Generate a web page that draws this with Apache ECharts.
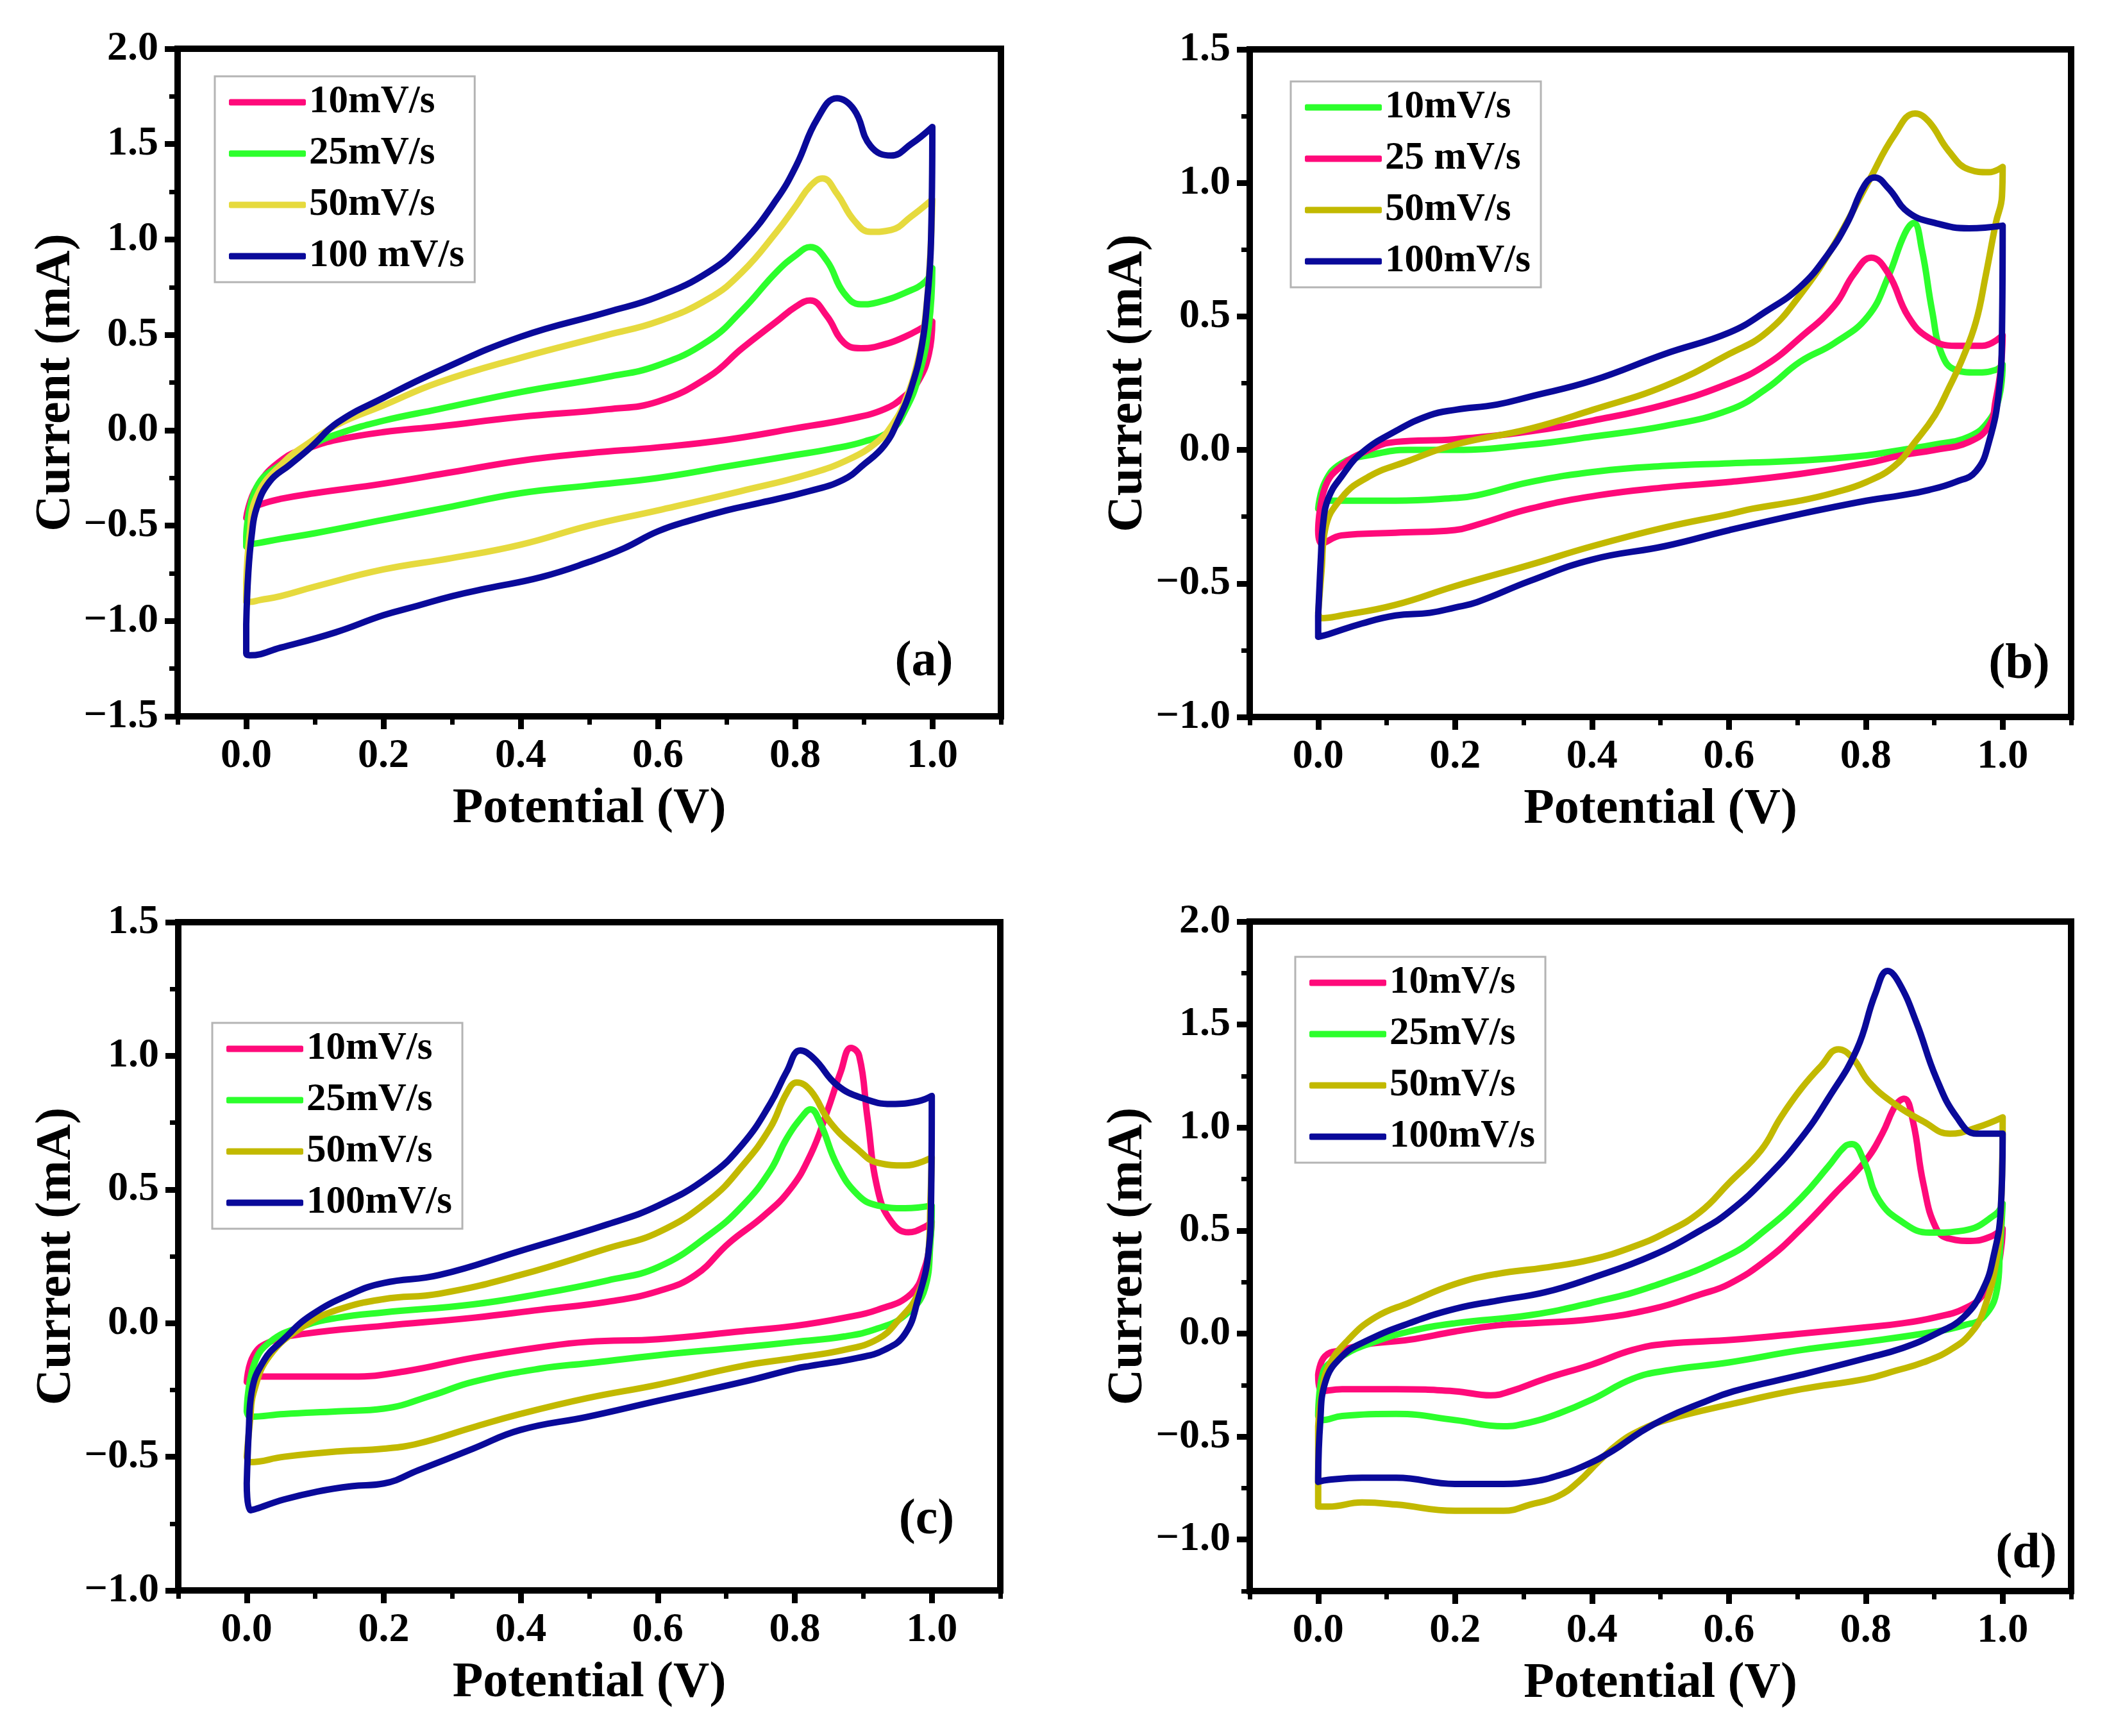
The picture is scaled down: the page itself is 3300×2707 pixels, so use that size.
<!DOCTYPE html>
<html>
<head>
<meta charset="utf-8">
<title>CV curves at different scan rates</title>
<script src="https://cdn.jsdelivr.net/npm/echarts@6/dist/echarts.min.js"></script>
<style>
  html, body { margin: 0; padding: 0; background: #fff; }
  #chart { width: 3300px; height: 2707px; }
</style>
</head>
<body>
<div id="chart"></div>
<script>
  var FONT = "'Liberation Serif', 'Times New Roman', serif";

  /** Tick labels */
  var potentialTicks = [0, 0.2, 0.4, 0.6, 0.8, 1.0];
  var currentTicksA = [-1.5, -1.0, -0.5, 0, 0.5, 1.0, 1.5, 2.0];
  var currentTicksBC = [-1.0, -0.5, 0, 0.5, 1.0, 1.5];
  var currentTicksD = [-1.0, -0.5, 0, 0.5, 1.0, 1.5, 2.0];

  /** Legend labels */
  var ratesA = ['10mV/s', '25mV/s', '50mV/s', '100 mV/s'];
  var ratesB = ['10mV/s', '25 mV/s', '50mV/s', '100mV/s'];
  var ratesCD = ['10mV/s', '25mV/s', '50mV/s', '100mV/s'];

  /** Data: [potential (V), current (mA)], forward scan then reverse scan */
  var cvA10 = [[0,-0.46],[0.015,-0.30],[0.054,-0.15],[0.094,-0.09],[0.133,-0.05],[0.2,-0.01],[0.28,0.02],[0.4,0.07],[0.527,0.11],[0.6,0.15],[0.674,0.28],[0.723,0.43],[0.773,0.57],[0.802,0.65],[0.822,0.68],[0.846,0.60],[0.871,0.46],[0.896,0.43],[0.92,0.44],[0.96,0.49],[1.0,0.57],
    [0.995,0.40],[0.98,0.26],[0.96,0.18],[0.93,0.11],[0.88,0.06],[0.8,0.01],[0.7,-0.05],[0.6,-0.09],[0.5,-0.12],[0.4,-0.16],[0.3,-0.22],[0.2,-0.28],[0.1,-0.33],[0.05,-0.36],[0.02,-0.39],[0.005,-0.42],[0,-0.46]];
  var cvA25 = [[0,-0.56],[0.015,-0.30],[0.054,-0.17],[0.094,-0.08],[0.133,-0.02],[0.2,0.05],[0.28,0.11],[0.4,0.20],[0.527,0.28],[0.6,0.34],[0.674,0.47],[0.723,0.63],[0.773,0.83],[0.802,0.92],[0.822,0.96],[0.846,0.89],[0.871,0.72],[0.896,0.66],[0.92,0.67],[0.96,0.72],[0.99,0.78],[1.0,0.85],
    [0.995,0.55],[0.98,0.28],[0.96,0.10],[0.94,0.0],[0.9,-0.06],[0.85,-0.10],[0.8,-0.13],[0.7,-0.19],[0.6,-0.25],[0.5,-0.29],[0.4,-0.33],[0.3,-0.40],[0.2,-0.47],[0.1,-0.54],[0.05,-0.57],[0.02,-0.59],[0.005,-0.60],[0,-0.61]];
  var cvA50 = [[0,-0.80],[0.005,-0.55],[0.015,-0.35],[0.054,-0.17],[0.094,-0.06],[0.133,0.03],[0.2,0.13],[0.28,0.25],[0.4,0.38],[0.527,0.50],[0.6,0.57],[0.674,0.69],[0.723,0.83],[0.773,1.04],[0.802,1.18],[0.822,1.28],[0.84,1.32],[0.861,1.24],[0.886,1.10],[0.91,1.04],[0.94,1.05],[0.969,1.12],[1.0,1.21],
    [0.997,0.92],[0.99,0.60],[0.98,0.38],[0.96,0.15],[0.94,0.02],[0.92,-0.06],[0.88,-0.15],[0.82,-0.23],[0.72,-0.32],[0.6,-0.42],[0.5,-0.50],[0.4,-0.60],[0.3,-0.67],[0.2,-0.73],[0.1,-0.82],[0.05,-0.87],[0.02,-0.89],[0.005,-0.90],[0,-0.90]];
  var cvA100 = [[0,-1.02],[0.003,-0.75],[0.008,-0.55],[0.015,-0.41],[0.034,-0.27],[0.064,-0.18],[0.094,-0.09],[0.133,0.04],[0.2,0.17],[0.28,0.31],[0.4,0.49],[0.527,0.62],[0.6,0.70],[0.674,0.83],[0.723,0.98],[0.773,1.21],[0.802,1.39],[0.832,1.63],[0.861,1.74],[0.886,1.68],[0.91,1.49],[0.94,1.44],[0.969,1.50],[1.0,1.59],
    [0.998,0.98],[0.993,0.70],[0.985,0.45],[0.97,0.23],[0.95,0.05],[0.93,-0.08],[0.9,-0.18],[0.87,-0.26],[0.82,-0.32],[0.75,-0.38],[0.7,-0.42],[0.65,-0.47],[0.6,-0.53],[0.55,-0.62],[0.5,-0.69],[0.43,-0.77],[0.35,-0.83],[0.3,-0.87],[0.25,-0.92],[0.2,-0.97],[0.13,-1.06],[0.05,-1.14],[0.005,-1.18],[0,-1.17]];

  var cvB10 = [[0,-0.22],[0.01,-0.12],[0.034,-0.05],[0.074,-0.02],[0.133,0.0],[0.2,0.0],[0.31,0.02],[0.401,0.05],[0.507,0.09],[0.601,0.15],[0.655,0.23],[0.704,0.33],[0.754,0.40],[0.803,0.50],[0.833,0.65],[0.857,0.81],[0.87,0.85],[0.882,0.75],[0.897,0.52],[0.911,0.36],[0.931,0.30],[0.961,0.29],[0.99,0.30],[1.0,0.32],
    [0.995,0.20],[0.98,0.11],[0.951,0.05],[0.901,0.02],[0.852,0.0],[0.801,-0.02],[0.704,-0.04],[0.601,-0.05],[0.507,-0.06],[0.409,-0.08],[0.31,-0.12],[0.232,-0.17],[0.2,-0.18],[0.113,-0.19],[0.034,-0.19],[0.01,-0.19],[0,-0.22]];
  var cvB25 = [[0,-0.30],[0.01,-0.14],[0.034,-0.06],[0.074,0.0],[0.113,0.03],[0.2,0.04],[0.31,0.07],[0.401,0.11],[0.507,0.17],[0.601,0.25],[0.655,0.32],[0.704,0.42],[0.754,0.54],[0.783,0.66],[0.808,0.72],[0.833,0.66],[0.862,0.50],[0.892,0.42],[0.931,0.39],[0.97,0.39],[1.0,0.43],
    [0.997,0.30],[0.99,0.19],[0.98,0.09],[0.951,0.03],[0.901,0.0],[0.852,-0.02],[0.801,-0.05],[0.704,-0.09],[0.601,-0.12],[0.507,-0.14],[0.409,-0.17],[0.31,-0.22],[0.232,-0.28],[0.2,-0.30],[0.113,-0.31],[0.034,-0.32],[0.005,-0.35]];
  var cvB50 = [[0,-0.61],[0.005,-0.45],[0.01,-0.30],[0.034,-0.18],[0.074,-0.10],[0.133,-0.04],[0.2,0.02],[0.31,0.08],[0.401,0.15],[0.507,0.24],[0.601,0.36],[0.655,0.44],[0.704,0.58],[0.754,0.77],[0.803,1.00],[0.842,1.18],[0.872,1.26],[0.892,1.23],[0.921,1.12],[0.951,1.05],[0.98,1.04],[1.0,1.06],
    [0.999,0.95],[0.99,0.85],[0.975,0.65],[0.961,0.48],[0.941,0.34],[0.921,0.23],[0.901,0.13],[0.872,0.03],[0.842,-0.06],[0.801,-0.12],[0.754,-0.16],[0.704,-0.19],[0.635,-0.22],[0.601,-0.24],[0.507,-0.29],[0.401,-0.36],[0.31,-0.43],[0.2,-0.51],[0.113,-0.58],[0.034,-0.62],[0.005,-0.63]];
  var cvB100 = [[0,-0.62],[0.004,-0.40],[0.007,-0.28],[0.015,-0.18],[0.034,-0.10],[0.064,-0.01],[0.113,0.07],[0.163,0.13],[0.2,0.15],[0.261,0.17],[0.31,0.20],[0.401,0.26],[0.507,0.36],[0.601,0.44],[0.655,0.52],[0.704,0.61],[0.744,0.73],[0.773,0.85],[0.798,0.99],[0.813,1.02],[0.833,0.98],[0.862,0.89],[0.901,0.85],[0.951,0.83],[1.0,0.84],
    [0.999,0.44],[0.995,0.23],[0.98,0.03],[0.961,-0.08],[0.931,-0.12],[0.892,-0.15],[0.852,-0.17],[0.801,-0.19],[0.704,-0.24],[0.601,-0.30],[0.507,-0.36],[0.401,-0.41],[0.31,-0.49],[0.232,-0.57],[0.2,-0.59],[0.163,-0.61],[0.113,-0.62],[0.064,-0.65],[0.015,-0.69],[0,-0.70]];

  var cvC10 = [[0,-0.22],[0.01,-0.12],[0.034,-0.07],[0.084,-0.04],[0.2,-0.01],[0.33,0.02],[0.429,0.05],[0.527,0.08],[0.601,0.12],[0.655,0.18],[0.704,0.30],[0.754,0.40],[0.793,0.50],[0.823,0.63],[0.847,0.79],[0.867,0.94],[0.882,1.03],[0.894,1.00],[0.906,0.77],[0.921,0.50],[0.941,0.38],[0.966,0.34],[0.99,0.36],[1.0,0.38],
    [0.997,0.30],[0.99,0.21],[0.97,0.11],[0.921,0.05],[0.872,0.02],[0.801,-0.01],[0.724,-0.03],[0.601,-0.06],[0.498,-0.07],[0.429,-0.09],[0.33,-0.13],[0.232,-0.18],[0.153,-0.20],[0.084,-0.20],[0.015,-0.20],[0,-0.22]];
  var cvC25 = [[0,-0.33],[0.01,-0.16],[0.034,-0.07],[0.084,-0.01],[0.133,0.02],[0.2,0.04],[0.33,0.07],[0.429,0.11],[0.527,0.16],[0.601,0.21],[0.675,0.33],[0.724,0.44],[0.764,0.57],[0.788,0.69],[0.813,0.78],[0.823,0.80],[0.837,0.75],[0.862,0.59],[0.892,0.48],[0.921,0.44],[0.961,0.43],[1.0,0.44],
    [0.998,0.30],[0.99,0.13],[0.961,0.03],[0.921,-0.02],[0.872,-0.05],[0.801,-0.07],[0.724,-0.09],[0.601,-0.12],[0.498,-0.15],[0.429,-0.17],[0.33,-0.22],[0.271,-0.27],[0.2,-0.32],[0.133,-0.33],[0.054,-0.34],[0.005,-0.35]];
  var cvC50 = [[0,-0.50],[0.005,-0.36],[0.01,-0.26],[0.034,-0.12],[0.084,-0.01],[0.133,0.05],[0.2,0.09],[0.281,0.11],[0.399,0.18],[0.527,0.28],[0.601,0.34],[0.675,0.46],[0.724,0.59],[0.764,0.73],[0.788,0.86],[0.803,0.90],[0.823,0.87],[0.852,0.75],[0.892,0.65],[0.921,0.60],[0.961,0.59],[1.0,0.62],
    [0.998,0.45],[0.995,0.26],[0.98,0.11],[0.951,0.01],[0.921,-0.06],[0.872,-0.10],[0.801,-0.13],[0.724,-0.16],[0.601,-0.23],[0.498,-0.28],[0.399,-0.34],[0.33,-0.39],[0.251,-0.45],[0.2,-0.47],[0.133,-0.48],[0.054,-0.50],[0.005,-0.52]];
  var cvC100 = [[0,-0.60],[0.003,-0.40],[0.007,-0.26],[0.025,-0.14],[0.054,-0.06],[0.094,0.03],[0.153,0.11],[0.2,0.15],[0.281,0.18],[0.399,0.27],[0.527,0.37],[0.601,0.44],[0.675,0.55],[0.724,0.67],[0.764,0.82],[0.788,0.94],[0.808,1.02],[0.828,0.99],[0.862,0.89],[0.901,0.84],[0.941,0.82],[0.98,0.83],[1.0,0.85],
    [0.999,0.46],[0.995,0.26],[0.98,0.09],[0.961,-0.04],[0.931,-0.10],[0.892,-0.13],[0.823,-0.16],[0.801,-0.17],[0.724,-0.22],[0.601,-0.29],[0.498,-0.35],[0.399,-0.40],[0.33,-0.47],[0.251,-0.55],[0.2,-0.60],[0.153,-0.61],[0.103,-0.63],[0.054,-0.66],[0.005,-0.70]];

  var cvD10 = [[0,-0.20],[0.01,-0.11],[0.035,-0.08],[0.074,-0.05],[0.133,-0.03],[0.2,0.01],[0.262,0.04],[0.311,0.05],[0.4,0.07],[0.489,0.12],[0.558,0.19],[0.6,0.24],[0.656,0.36],[0.706,0.51],[0.755,0.68],[0.8,0.84],[0.824,0.97],[0.844,1.11],[0.856,1.14],[0.869,1.03],[0.884,0.73],[0.903,0.51],[0.923,0.46],[0.953,0.45],[0.982,0.47],[1.0,0.51],
    [0.998,0.42],[0.992,0.32],[0.972,0.19],[0.943,0.12],[0.903,0.08],[0.854,0.05],[0.8,0.03],[0.706,0.0],[0.607,-0.03],[0.508,-0.05],[0.459,-0.08],[0.4,-0.15],[0.331,-0.22],[0.281,-0.28],[0.252,-0.30],[0.2,-0.28],[0.114,-0.27],[0.035,-0.27],[0.005,-0.28]];
  var cvD25 = [[0,-0.40],[0.007,-0.19],[0.035,-0.11],[0.074,-0.05],[0.133,0.01],[0.2,0.05],[0.311,0.09],[0.4,0.15],[0.489,0.23],[0.6,0.38],[0.656,0.51],[0.706,0.66],[0.745,0.81],[0.77,0.91],[0.78,0.92],[0.797,0.84],[0.819,0.65],[0.854,0.54],[0.893,0.49],[0.943,0.50],[0.99,0.58],[1.0,0.63],
    [0.996,0.40],[0.992,0.22],[0.972,0.08],[0.943,0.04],[0.903,0.01],[0.8,-0.04],[0.706,-0.08],[0.6,-0.14],[0.508,-0.18],[0.459,-0.22],[0.4,-0.32],[0.35,-0.39],[0.311,-0.43],[0.271,-0.45],[0.2,-0.42],[0.114,-0.39],[0.035,-0.40],[0.005,-0.42]];
  var cvD50 = [[0,-0.45],[0.005,-0.30],[0.015,-0.16],[0.044,-0.03],[0.084,0.08],[0.133,0.15],[0.2,0.24],[0.262,0.29],[0.331,0.32],[0.4,0.36],[0.459,0.42],[0.508,0.49],[0.558,0.59],[0.6,0.73],[0.647,0.89],[0.676,1.05],[0.706,1.19],[0.735,1.30],[0.76,1.38],[0.78,1.34],[0.805,1.22],[0.844,1.11],[0.884,1.03],[0.923,0.97],[0.962,1.00],[1.0,1.05],
    [0.998,0.65],[0.992,0.38],[0.972,0.11],[0.953,0.0],[0.923,-0.08],[0.884,-0.14],[0.844,-0.18],[0.8,-0.22],[0.706,-0.27],[0.607,-0.34],[0.508,-0.42],[0.47,-0.47],[0.44,-0.53],[0.41,-0.62],[0.38,-0.72],[0.35,-0.79],[0.31,-0.83],[0.271,-0.86],[0.2,-0.86],[0.114,-0.83],[0.064,-0.82],[0.015,-0.84],[0,-0.84]];
  var cvD100 = [[0,-0.70],[0.003,-0.43],[0.01,-0.24],[0.035,-0.11],[0.074,-0.03],[0.133,0.05],[0.2,0.12],[0.262,0.16],[0.331,0.20],[0.4,0.27],[0.489,0.38],[0.558,0.50],[0.6,0.59],[0.656,0.76],[0.706,0.95],[0.745,1.14],[0.787,1.38],[0.814,1.65],[0.832,1.76],[0.849,1.70],[0.874,1.51],[0.903,1.24],[0.933,1.05],[0.962,0.97],[1.0,0.97],
    [0.997,0.59],[0.987,0.38],[0.972,0.22],[0.943,0.08],[0.903,0.0],[0.854,-0.07],[0.8,-0.12],[0.706,-0.20],[0.607,-0.28],[0.558,-0.34],[0.508,-0.41],[0.47,-0.48],[0.43,-0.57],[0.39,-0.64],[0.35,-0.69],[0.311,-0.72],[0.262,-0.73],[0.2,-0.73],[0.114,-0.70],[0.064,-0.70],[0.015,-0.71],[0,-0.72]];

  /** Colours */
  var PINK = '#ff0a7a', GREEN = '#2cff2c', YELLOW = '#e6da3e', OLIVE = '#c2b900', NAVY = '#0a0a9a';

  /** Panel layout */
  var panels = [
    { key: 'a', box: [277, 76, 1284, 1041], yMin: -1.5, yMax: 2.0, yTicks: currentTicksA,
      legendAt: [335, 119], labelAt: [1441, 1033], names: ratesA,
      curves: [cvA10, cvA25, cvA50, cvA100], colors: [PINK, GREEN, YELLOW, NAVY] },
    { key: 'b', box: [1949, 77, 1281, 1041], yMin: -1.0, yMax: 1.5, yTicks: currentTicksBC,
      legendAt: [2013, 127], labelAt: [3149, 1037], names: ratesB,
      curves: [cvB10, cvB25, cvB50, cvB100], colors: [GREEN, PINK, OLIVE, NAVY] },
    { key: 'c', box: [278, 1438, 1282, 1042], yMin: -1.0, yMax: 1.5, yTicks: currentTicksBC,
      legendAt: [331, 1595], labelAt: [1445, 2371], names: ratesCD,
      curves: [cvC10, cvC25, cvC50, cvC100], colors: [PINK, GREEN, OLIVE, NAVY] },
    { key: 'd', box: [1949, 1437, 1281, 1044], yMin: -1.25, yMax: 2.0, yTicks: currentTicksD,
      legendAt: [2020, 1492], labelAt: [3160, 2424], names: ratesCD,
      curves: [cvD10, cvD25, cvD50, cvD100], colors: [PINK, GREEN, OLIVE, NAVY] }
  ];

  function tickText(v) {
    var s = Math.abs(v).toFixed(1);
    return v < -1e-9 ? '\u2212' + s : s;
  }

  var labelStyle = { fontFamily: FONT, fontWeight: 'bold', fontSize: 64, color: '#000' };
  var nameStyle = { fontFamily: FONT, fontWeight: 'bold', fontSize: 78, color: '#000' };

  var option = {
    animation: false,
    backgroundColor: '#fff',
    grid: [], xAxis: [], yAxis: [], legend: [], series: [], graphic: []
  };

  panels.forEach(function(p, i) {
    option.grid.push({
      left: p.box[0], top: p.box[1], width: p.box[2], height: p.box[3],
      show: true, borderColor: '#000', borderWidth: 10, backgroundColor: 'transparent'
    });

    // major x axis with labels
    option.xAxis.push({
      type: 'value', gridIndex: i, position: 'bottom', min: -0.1, max: 1.1, interval: 0.1,
      name: 'Potential (V)', nameLocation: 'middle', nameGap: 106, nameTextStyle: nameStyle,
      axisLine: { show: true, onZero: false, lineStyle: { color: '#000', width: 10 } },
      axisTick: { show: true, inside: false, length: 20, customValues: potentialTicks,
        lineStyle: { color: '#000', width: 9 } },
      axisLabel: Object.assign({ customValues: potentialTicks, margin: 30, formatter: tickText }, labelStyle),
      splitLine: { show: false }
    });
    // minor x ticks
    option.xAxis.push({
      type: 'value', gridIndex: i, position: 'bottom', min: -0.1, max: 1.1, interval: 0.1,
      axisLine: { show: false, onZero: false },
      axisTick: { show: true, inside: false, length: 13, lineStyle: { color: '#000', width: 7 } },
      axisLabel: { show: false }, splitLine: { show: false }
    });

    option.yAxis.push({
      type: 'value', gridIndex: i, position: 'left', min: p.yMin, max: p.yMax, interval: 0.25,
      name: 'Current (mA)', nameLocation: 'middle', nameGap: 148, nameTextStyle: nameStyle,
      axisLine: { show: true, onZero: false, lineStyle: { color: '#000', width: 10 } },
      axisTick: { show: true, inside: false, length: 20, customValues: p.yTicks,
        lineStyle: { color: '#000', width: 9 } },
      axisLabel: Object.assign({ customValues: p.yTicks, margin: 30, formatter: tickText }, labelStyle),
      splitLine: { show: false }
    });
    // minor y ticks
    option.yAxis.push({
      type: 'value', gridIndex: i, position: 'left', min: p.yMin, max: p.yMax, interval: 0.25,
      axisLine: { show: false, onZero: false },
      axisTick: { show: true, inside: false, length: 13, lineStyle: { color: '#000', width: 7 } },
      axisLabel: { show: false }, splitLine: { show: false }
    });

    var legendNames = [];
    p.curves.forEach(function(loop, k) {
      var name = p.key + '|' + p.names[k];
      legendNames.push(name);
      option.series.push({
        type: 'line', name: name,
        xAxisIndex: 2 * i, yAxisIndex: 2 * i,
        data: loop.concat([loop[0]]),
        showSymbol: false, symbol: 'none', smooth: 0.45,
        color: p.colors[k],
        lineStyle: { width: 10, color: p.colors[k], cap: 'round', join: 'round' },
        itemStyle: { color: p.colors[k] }
      });
    });

    option.legend.push({
      data: legendNames, left: p.legendAt[0], top: p.legendAt[1], orient: 'vertical',
      icon: 'roundRect', itemWidth: 120, itemHeight: 10, itemGap: 19,
      padding: [10, 16, 10, 22], borderColor: '#b4b4b4', borderWidth: 3, backgroundColor: '#fff',
      selectedMode: false,
      formatter: function(name) { return name.split('|')[1]; },
      textStyle: { fontFamily: FONT, fontWeight: 'bold', fontSize: 61, lineHeight: 58, color: '#000' }
    });

    option.graphic.push({
      type: 'text', x: p.labelAt[0], y: p.labelAt[1], z: 100,
      style: { text: '(' + p.key + ')', fontFamily: FONT, fontWeight: 'bold', fontSize: 78,
        fill: '#000', align: 'center', verticalAlign: 'middle' }
    });
  });

  echarts.init(document.getElementById('chart')).setOption(option);
</script>
</body>
</html>
